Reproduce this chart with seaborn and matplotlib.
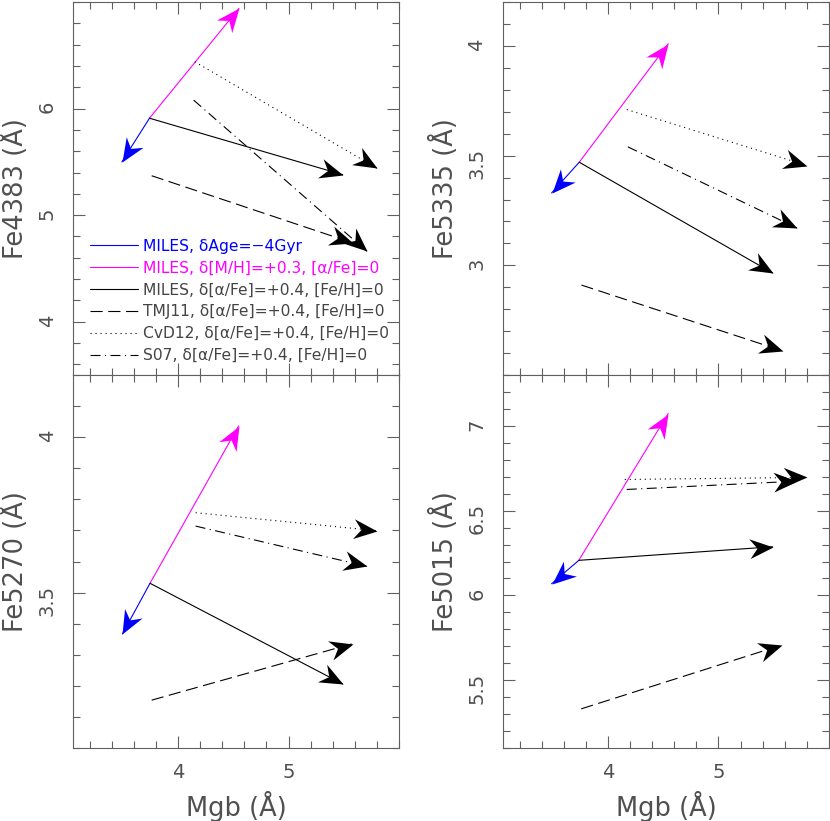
import numpy as np
import pandas as pd
import seaborn as sns
import matplotlib.pyplot as plt
from matplotlib.path import Path
from matplotlib.markers import MarkerStyle
from matplotlib.transforms import Affine2D
from matplotlib.ticker import MultipleLocator, FixedLocator, FormatStrFormatter
from matplotlib.lines import Line2D

# index names per panel (top-left, top-right, bottom-left, bottom-right)
panels = ['Fe4383', 'Fe5335', 'Fe5270', 'Fe5015']
ylims = [(3.5, 7.0), (2.5, 4.2), (3.0, 4.2), (5.1, 7.3)]
yticks = [[4, 5, 6], [3, 3.5, 4], [3.5, 4], [5.5, 6, 6.5, 7]]
yminor = [0.2, 0.1, 0.1, 0.1]
xticks = [4, 5]

# MILES base model (start of the three MILES arrows)
miles_x0 = [3.74, 3.74, 3.745, 3.736]
miles_y0 = [5.91, 3.47, 3.53, 6.207]
# MILES, dAge = -4 Gyr
age_x1 = [3.49, 3.49, 3.495, 3.49]
age_y1 = [5.50, 3.33, 3.367, 6.069]
# MILES, d[M/H] = +0.3
mh_x1 = [4.55, 4.545, 4.547, 4.545]
mh_y1 = [6.94, 4.01, 4.036, 7.073]
# MILES, d[a/Fe] = +0.4
alpha_x1 = [5.49, 5.49, 5.49, 5.49]
alpha_y1 = [5.38, 2.965, 3.206, 6.287]
# TMJ11
tmj_x0 = [3.76, 3.76, 3.76, 3.758]
tmj_y0 = [5.37, 2.91, 3.154, 5.331]
tmj_x1 = [5.58, 5.58, 5.583, 5.576]
tmj_y1 = [4.74, 2.61, 3.336, 5.708]
# CvD12
cvd_x0 = [4.15, 4.17, 4.158, 4.152]
cvd_y0 = [6.44, 3.71, 3.757, 6.684]
cvd_x1 = [5.80, 5.80, 5.805, 5.80]
cvd_y1 = [5.44, 3.455, 3.699, 6.696]
# S07
s07_x0 = [4.14, 4.18, 4.158, 4.17]
s07_y0 = [6.08, 3.54, 3.714, 6.625]
s07_x1 = [5.71, 5.71, 5.714, 5.71]
s07_y1 = [4.66, 3.17, 3.584, 6.674]

series = ['age', 'mh', 'alpha', 'tmj', 'cvd', 's07']
labels = ['MILES, δAge=−4Gyr',
          'MILES, δ[M/H]=+0.3, [α/Fe]=0',
          'MILES, δ[α/Fe]=+0.4, [Fe/H]=0',
          'TMJ11, δ[α/Fe]=+0.4, [Fe/H]=0',
          'CvD12, δ[α/Fe]=+0.4, [Fe/H]=0',
          'S07, δ[α/Fe]=+0.4, [Fe/H]=0']
palette = {'age': '#0000ff', 'mh': '#ff00ff', 'alpha': 'black',
           'tmj': 'black', 'cvd': 'black', 's07': 'black'}
dash_map = {'age': '', 'mh': '', 'alpha': '',
            'tmj': (11, 5), 'cvd': (1, 3.5), 's07': (9, 4, 1, 4)}
text_colors = ['#0000ff', '#ff00ff', '#444444', '#444444', '#444444', '#444444']

coords = {
    'age': (miles_x0, miles_y0, age_x1, age_y1),
    'mh': (miles_x0, miles_y0, mh_x1, mh_y1),
    'alpha': (miles_x0, miles_y0, alpha_x1, alpha_y1),
    'tmj': (tmj_x0, tmj_y0, tmj_x1, tmj_y1),
    'cvd': (cvd_x0, cvd_y0, cvd_x1, cvd_y1),
    's07': (s07_x0, s07_y0, s07_x1, s07_y1),
}

rows = []
for i, p in enumerate(panels):
    for s in series:
        x0, y0, x1, y1 = coords[s]
        rows.append({'panel': p, 'series': s, 'pt': 0, 'x': x0[i], 'y': y0[i]})
        rows.append({'panel': p, 'series': s, 'pt': 1, 'x': x1[i], 'y': y1[i]})
df = pd.DataFrame(rows)

sns.set_style('ticks')
plt.rcParams['font.family'] = ['DejaVu Sans']
TXT = '#505050'
AX = '#606060'

# notched arrowhead, tip at the origin pointing to +x
head = Path([(0, 0), (-1, 0.42), (-0.68, 0), (-1, -0.42), (0, 0)],
            [Path.MOVETO, Path.LINETO, Path.LINETO, Path.LINETO, Path.CLOSEPOLY])

fig = plt.figure(figsize=(8.3, 8.21), dpi=100)
positions = [[0.0883, 0.5432, 0.3924, 0.4543],
             [0.6060, 0.5432, 0.3928, 0.4543],
             [0.0883, 0.0889, 0.3924, 0.4543],
             [0.6060, 0.0889, 0.3928, 0.4543]]

for i, p in enumerate(panels):
    ax = fig.add_axes(positions[i])
    sub = df[df.panel == p]
    sns.lineplot(data=sub, x='x', y='y', hue='series', style='series',
                 palette=palette, dashes=dash_map, estimator=None, sort=False,
                 legend=False, lw=0.8, ax=ax)
    ax.set_xlim(3.05, 6.0)
    ax.set_ylim(*ylims[i])

    # arrowheads
    for s in series:
        x0, y0, x1, y1 = coords[s]
        a = ax.transData.transform((x0[i], y0[i]))
        b = ax.transData.transform((x1[i], y1[i]))
        ang = np.degrees(np.arctan2(b[1] - a[1], b[0] - a[0]))
        m = MarkerStyle(head, transform=Affine2D().rotate_deg(ang))
        ax.plot([x1[i]], [y1[i]], marker=m, ms=34, color=palette[s], mew=0, ls='none')

    ax.xaxis.set_major_locator(FixedLocator(xticks))
    ax.xaxis.set_minor_locator(MultipleLocator(0.2))
    ax.yaxis.set_major_locator(FixedLocator(yticks[i]))
    ax.yaxis.set_minor_locator(MultipleLocator(yminor[i]))
    ax.xaxis.set_major_formatter(FormatStrFormatter('%g'))
    ax.yaxis.set_major_formatter(FormatStrFormatter('%g'))
    ax.tick_params(which='both', direction='in', top=True, right=True,
                   color=AX, width=0.8, labelcolor=TXT, labelsize=14)
    ax.tick_params(which='major', length=8.6)
    ax.tick_params(which='minor', length=4.7)
    ax.tick_params(axis='y', labelrotation=90, pad=12)
    ax.tick_params(axis='x', pad=11)
    for sp in ax.spines.values():
        sp.set_color(AX)
        sp.set_linewidth(0.8)

    ax.set_ylabel(f'{p} (Å)', fontsize=18.5, color=TXT, labelpad=6)
    if i >= 2:
        ax.set_xlabel('Mgb (Å)', fontsize=18.5, color=TXT, labelpad=6)
    else:
        ax.set_xlabel('')
        ax.tick_params(axis='x', labelbottom=False)

    if i == 0:
        handles = [Line2D([], [], color=palette[s], lw=0.8,
                          dashes=dash_map[s] if dash_map[s] else (None, None))
                   for s in series]
        ax.legend(handles, labels, loc='lower left', bbox_to_anchor=(0.051, 0.032),
                  frameon=False, fontsize=11.2, handlelength=3.1, handletextpad=0.3,
                  labelspacing=0.44, borderpad=0, borderaxespad=0,
                  labelcolor=text_colors)

fig.savefig('out.png', dpi=100)
